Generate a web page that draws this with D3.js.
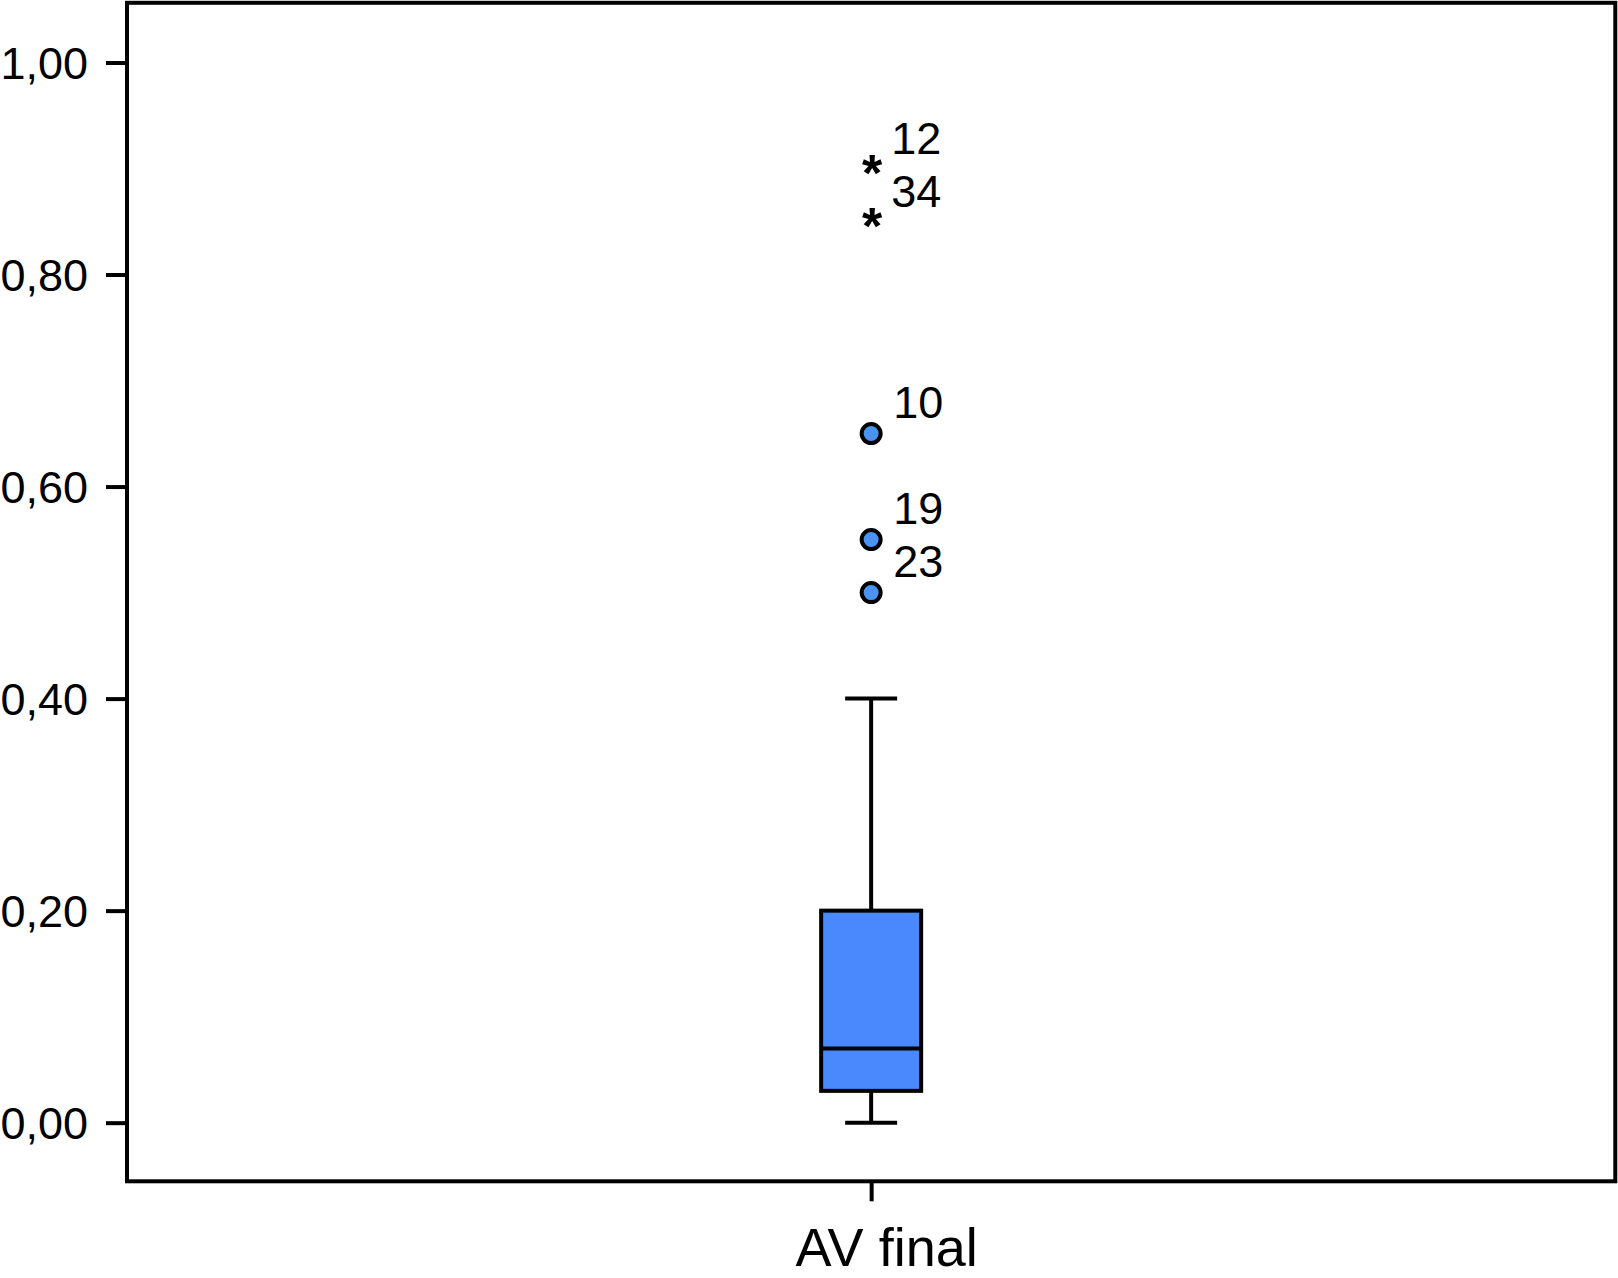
<!DOCTYPE html>
<html>
<head>
<meta charset="utf-8">
<script src="https://cdn.jsdelivr.net/npm/d3@7"></script>
<style>
  html, body { margin: 0; padding: 0; background: #fff; }
  svg { display: block; }
  text { font-family: "Liberation Sans", Arial, Helvetica, sans-serif; fill: #000; }
</style>
</head>
<body>
<svg id="chart" width="1618" height="1278"></svg>
<script>
// ---- Data ----
const categories = ["AV final"];
const boxMin = [0.00];
const boxQ1 = [0.03];
const boxMedian = [0.07];
const boxQ3 = [0.20];
const boxMax = [0.40];
// outliers (circles) and extremes (stars), with case labels
const outlierValues = [0.65, 0.55, 0.50];
const outlierLabels = ["10", "19", "23"];
const extremeValues = [0.90, 0.85];
const extremeLabels = ["12", "34"];
const yTicks = [0, 0.2, 0.4, 0.6, 0.8, 1.0];
const yTickLabels = ["0,00", "0,20", "0,40", "0,60", "0,80", "1,00"];

// ---- Layout ----
const plotLeft = 127, plotRight = 1615.3, plotTop = 2.8, plotBottom = 1181.3;
const svg = d3.select("#chart");

const y = d3.scaleLinear().domain([-0.0553, 1.0563]).range([plotBottom, plotTop]);
const x = d3.scalePoint().domain(categories).range([plotLeft, plotRight]).padding(0.5);

const boxColor = "#4a88fd";
const dotColor = "#4b93f0";

// Y axis
const yAxis = d3.axisLeft(y)
  .tickValues(yTicks)
  .tickFormat((d, i) => yTickLabels[i])
  .tickSize(21)
  .tickPadding(18);
const gy = svg.append("g").attr("transform", `translate(${plotLeft},0)`).call(yAxis);
gy.select(".domain").remove();
gy.selectAll(".tick line").attr("stroke", "#000").attr("stroke-width", 4);
gy.selectAll(".tick text").style("font-size", "45px").attr("dy", "0.36em").attr("fill", "#000");

// X axis
const xAxis = d3.axisBottom(x).tickSize(20).tickFormat(() => "");
const gx = svg.append("g").attr("transform", `translate(0,${plotBottom})`).call(xAxis);
gx.select(".domain").remove();
gx.selectAll(".tick line").attr("stroke", "#000").attr("stroke-width", 4);
gx.selectAll(".tick").append("text")
  .attr("x", 15).attr("y", 85)
  .attr("text-anchor", "middle")
  .style("font-size", "54px")
  .attr("fill", "#000")
  .text(d => d);

// Box plot
const boxW = 100, capW = 52;
categories.forEach((c, i) => {
  const cx = x(c);
  const g = svg.append("g");
  // whiskers
  g.append("line").attr("x1", cx).attr("x2", cx).attr("y1", y(boxQ3[i])).attr("y2", y(boxMax[i]))
    .attr("stroke", "#000").attr("stroke-width", 4);
  g.append("line").attr("x1", cx).attr("x2", cx).attr("y1", y(boxQ1[i])).attr("y2", y(boxMin[i]))
    .attr("stroke", "#000").attr("stroke-width", 4);
  g.append("line").attr("x1", cx - capW / 2).attr("x2", cx + capW / 2).attr("y1", y(boxMax[i])).attr("y2", y(boxMax[i]))
    .attr("stroke", "#000").attr("stroke-width", 4);
  g.append("line").attr("x1", cx - capW / 2).attr("x2", cx + capW / 2).attr("y1", y(boxMin[i])).attr("y2", y(boxMin[i]))
    .attr("stroke", "#000").attr("stroke-width", 4);
  // box
  g.append("rect").attr("x", cx - boxW / 2).attr("width", boxW)
    .attr("y", y(boxQ3[i])).attr("height", y(boxQ1[i]) - y(boxQ3[i]))
    .attr("fill", boxColor).attr("stroke", "#000").attr("stroke-width", 4);
  // median
  g.append("line").attr("x1", cx - boxW / 2).attr("x2", cx + boxW / 2).attr("y1", y(boxMedian[i])).attr("y2", y(boxMedian[i]))
    .attr("stroke", "#000").attr("stroke-width", 4);

  // outliers
  outlierValues.forEach((v, j) => {
    g.append("circle").attr("cx", cx).attr("cy", y(v)).attr("r", 9.5)
      .attr("fill", dotColor).attr("stroke", "#000").attr("stroke-width", 4);
    g.append("text").attr("x", cx + 22).attr("y", y(v) - 16)
      .style("font-size", "45px").text(outlierLabels[j]);
  });
  // extremes
  extremeValues.forEach((v, j) => {
    g.append("text").attr("x", cx + 1).attr("y", y(v) + 22)
      .attr("text-anchor", "middle")
      .style("font-size", "52px").style("font-weight", "bold").text("*");
    g.append("text").attr("x", cx + 20).attr("y", y(v) - 15)
      .style("font-size", "45px").text(extremeLabels[j]);
  });
});

// Frame
svg.append("rect").attr("x", plotLeft).attr("y", plotTop).attr("width", plotRight - plotLeft).attr("height", plotBottom - plotTop)
  .attr("fill", "none").attr("stroke", "#000").attr("stroke-width", 4);
</script>
</body>
</html>
